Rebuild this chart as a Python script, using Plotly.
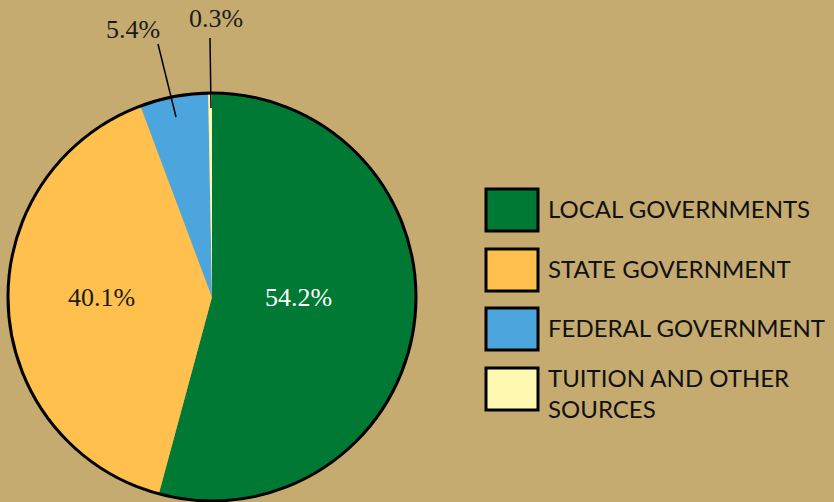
import plotly.graph_objects as go

W, H = 834, 502

categories = ["LOCAL GOVERNMENTS", "STATE GOVERNMENT", "FEDERAL GOVERNMENT", "TUITION AND OTHER<br>SOURCES"]
values = [54.2, 40.1, 5.4, 0.3]
colors = ["#007934", "#FFC04D", "#4CA6DD", "#FFF8B0"]
pct_labels = ["54.2%", "40.1%", "5.4%", "0.3%"]

BG = "#C5AB70"

def px(x):
    return x / W

def py(y):
    return 1 - y / H

cx, cy, r = 212, 297, 204
dom = dict(x=[px(cx - r), px(cx + r)], y=[py(cy + r), py(cy - r)])

fig = go.Figure()
fig.add_trace(go.Pie(
    labels=categories, values=values, sort=False, direction="clockwise", rotation=0,
    marker=dict(colors=colors, line=dict(width=0)),
    textinfo="none", hoverinfo="label+percent", showlegend=False, domain=dom,
))
# black outline around the pie
fig.add_trace(go.Pie(
    labels=["outline"], values=[1], sort=False,
    marker=dict(colors=["rgba(0,0,0,0)"], line=dict(color="black", width=3)),
    textinfo="none", hoverinfo="skip", showlegend=False, domain=dom,
))

annotations = []
shapes = []

# percent labels
label_pos = [(298, 297, "white"), (101, 297, "#1a1a1a"), (133, 30, "#1a1a1a"), (216, 19, "#1a1a1a")]
for txt, (x, y, c) in zip(pct_labels, label_pos):
    annotations.append(dict(x=px(x), y=py(y), xref="paper", yref="paper", text=txt, showarrow=False,
                            font=dict(family="Liberation Serif, DejaVu Serif, serif", size=26, color=c),
                            xanchor="center", yanchor="middle"))
# leader lines
for (x0, y0, x1, y1) in [(158, 44, 176, 117), (210, 38, 211, 108)]:
    shapes.append(dict(type="line", xref="paper", yref="paper", x0=px(x0), y0=py(y0), x1=px(x1), y1=py(y1),
                       line=dict(color="black", width=1.5)))

# legend
box_x0, box_x1 = 486, 538
box_tops = [189, 249, 308, 368]
box_h = 42
for cat, col, top in zip(categories, colors, box_tops):
    shapes.append(dict(type="rect", xref="paper", yref="paper", x0=px(box_x0), x1=px(box_x1),
                       y0=py(top + box_h), y1=py(top), fillcolor=col, line=dict(color="black", width=3)))
    two_lines = "<br>" in cat
    yc = top + (25 if two_lines else 19)
    annotations.append(dict(x=px(546), y=py(yc), xref="paper", yref="paper", text=cat, showarrow=False,
                            xanchor="left", yanchor="middle", align="left",
                            font=dict(family="Lato, Open Sans, sans-serif", size=24, color="#111111")))

fig.update_layout(
    width=W, height=H, margin=dict(l=0, r=0, t=0, b=0),
    paper_bgcolor=BG, plot_bgcolor=BG,
    annotations=annotations, shapes=shapes,
)

fig.write_html("out.html", config={"displayModeBar": False},
               post_script="document.body.style.margin='0';document.body.style.background='%s';" % BG)
